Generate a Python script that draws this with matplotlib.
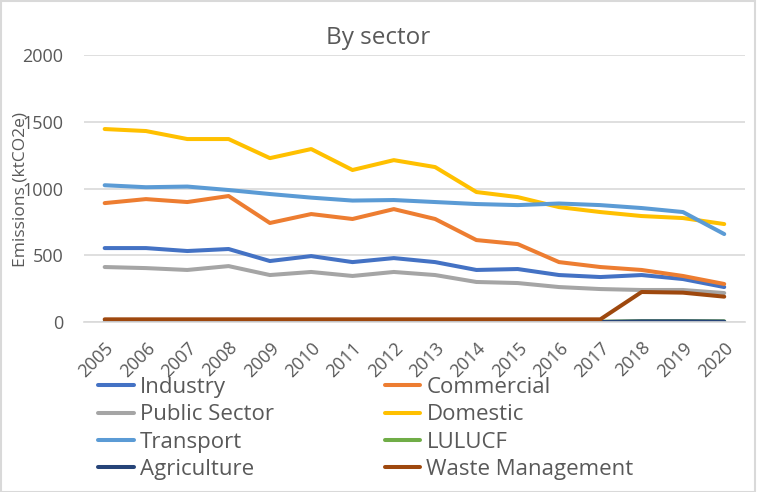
import matplotlib
matplotlib.use('Agg')
import matplotlib.pyplot as plt
import numpy as np

years = [str(y) for y in range(2005, 2021)]

industry = [554, 554, 532, 547, 457, 494, 449, 479, 449, 390, 397, 352, 337, 352, 322, 262]
commercial = [891, 921, 899, 944, 742, 809, 772, 846, 772, 614, 584, 449, 412, 390, 345, 285]
public_sector = [412, 404, 390, 419, 352, 375, 345, 375, 352, 300, 292, 262, 247, 240, 240, 217]
domestic = [1446, 1431, 1371, 1371, 1228, 1296, 1139, 1213, 1161, 974, 936, 861, 824, 794, 779, 734]
transport = [1025, 1010, 1015, 989, 959, 932, 910, 914, 899, 884, 876, 888, 876, 854, 824, 659]
lulucf = [2, 2, 2, 2, 2, 2, 2, 2, 2, 2, 2, 2, 2, 6, 6, 5]
agriculture = [0, 0, 0, 0, 0, 0, 0, 0, 0, 0, 0, 0, 0, 5, 5, 3]
waste = [20, 20, 20, 20, 20, 20, 20, 20, 20, 20, 20, 20, 20, 225, 220, 190]

series = [
    ('Industry', industry, '#4472C4'),
    ('Commercial', commercial, '#ED7D31'),
    ('Public Sector', public_sector, '#A5A5A5'),
    ('Domestic', domestic, '#FFC000'),
    ('Transport', transport, '#5B9BD5'),
    ('LULUCF', lulucf, '#70AD47'),
    ('Agriculture', agriculture, '#264478'),
    ('Waste Management', waste, '#9E480E'),
]

plt.rcParams['font.family'] = ['Open Sans', 'DejaVu Sans']
txt = '#595959'

fig = plt.figure(figsize=(7.57, 4.92), dpi=100)
ax = fig.add_axes([0.111, 0.3455, 0.873, 0.5425])

x = np.arange(len(years))
for name, vals, col in series:
    ax.plot(x, vals, color=col, lw=2.9, label=name, solid_capstyle='round', solid_joinstyle='round')

ax.set_xlim(-0.5, len(years) - 0.5)
ax.set_ylim(0, 2000)
ax.set_yticks([0, 500, 1000, 1500, 2000])
ax.set_xticks(x)
ax.set_xticklabels(years, rotation=45, ha='right', rotation_mode='anchor')
ax.tick_params(axis='both', length=0, colors=txt, labelsize=13)
ax.tick_params(axis='y', pad=15)
ax.tick_params(axis='x', pad=12)
ax.grid(axis='y', color='#D9D9D9', lw=1.2)
ax.set_axisbelow(True)
for s in ['top', 'right', 'left']:
    ax.spines[s].set_visible(False)
ax.spines['bottom'].set_color('#D9D9D9')
ax.spines['bottom'].set_linewidth(1.2)

fig.text(0.5, 0.923, 'By sector', color=txt, fontsize=17.5, ha='center', va='center')
fig.text(0.027, 0.614, 'Emissions (ktCO2e)', rotation=90, color=txt, fontsize=12.5, ha='center', va='center')

# Excel fills the legend row by row
handles, labels = ax.get_legend_handles_labels()
order = [0, 2, 4, 6, 1, 3, 5, 7]
leg = fig.legend([handles[i] for i in order], [labels[i] for i in order],
                 loc='upper left', bbox_to_anchor=(0.115, 0.256),
                 ncol=2, frameon=False, fontsize=16, handlelength=1.6, handletextpad=0.27,
                 columnspacing=5.0, labelspacing=0.28, borderpad=0, labelcolor=txt)

fig.patches.append(plt.Rectangle((0.001, 0.001), 0.997, 0.997, transform=fig.transFigure,
                                 fill=False, edgecolor='#D9D9D9', lw=1.5))

fig.savefig('out.png', dpi=100)
